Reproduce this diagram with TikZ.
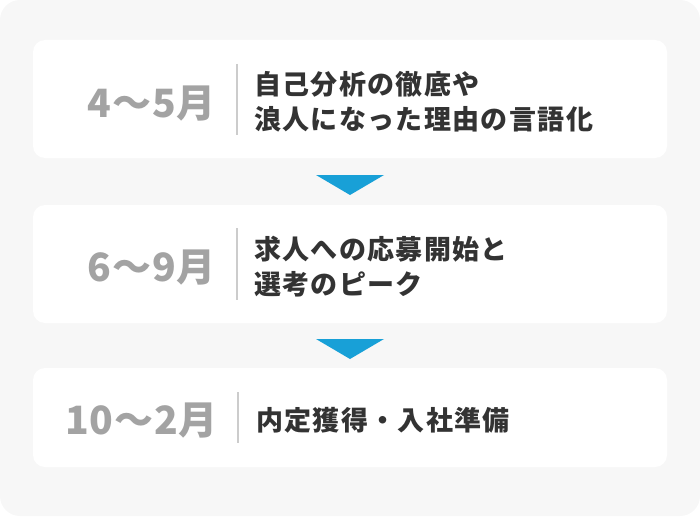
\documentclass[tikz,border=0pt]{standalone}
\usepackage{fontspec}
\setmainfont{Noto Sans CJK JP}
\usepackage{tikz}

\definecolor{bggray}{HTML}{F7F7F7}
\definecolor{monthgray}{HTML}{A3A3A3}
\definecolor{taskgray}{HTML}{333333}
\definecolor{sepgray}{HTML}{CCCCCC}
\definecolor{downblue}{HTML}{18A0D7}

\begin{document}
\begin{tikzpicture}[x=1pt,y=-1pt,
    box/.style={fill=white,rounded corners=12pt},
    month/.style={anchor=east,inner sep=0pt,text=monthgray,
        font=\fontsize{39}{39}\selectfont\bfseries\addfontfeature{LetterSpace=2}},
    task/.style={anchor=west,inner sep=0pt,align=left,text=taskgray,
        font=\fontsize{27}{35}\selectfont\bfseries\addfontfeature{LetterSpace=5}},
    sep/.style={draw=sepgray,line width=2pt},
    down/.style={fill=downblue}]
    \fill[bggray,rounded corners=20pt] (0,0) rectangle (700,516);

    \fill[box] (33,40) rectangle (667,158);
    \fill[box] (33,205) rectangle (667,323);
    \fill[box] (33,368) rectangle (667,467);

    \fill[down] (316,175) -- (384,175) -- (350,195) -- cycle;
    \fill[down] (316,339) -- (384,339) -- (350,359) -- cycle;

    \node[month] (m1) at (216,104) {4〜5月};
    \draw[sep] (237,64) -- (237,135);
    \node[task] (t1) at (254,102) {自己分析の徹底や\\浪人になった理由の言語化};

    \node[month] (m2) at (216,268) {6〜9月};
    \draw[sep] (237,228) -- (237,300);
    \node[task] (t2) at (254,267) {求人への応募開始と\\選考のピーク};

    \node[month] (m3) at (218,421) {10〜2月};
    \draw[sep] (238,392) -- (238,443);
    \node[task] (t3) at (256,420) {内定獲得・入社準備};
\end{tikzpicture}
\end{document}
